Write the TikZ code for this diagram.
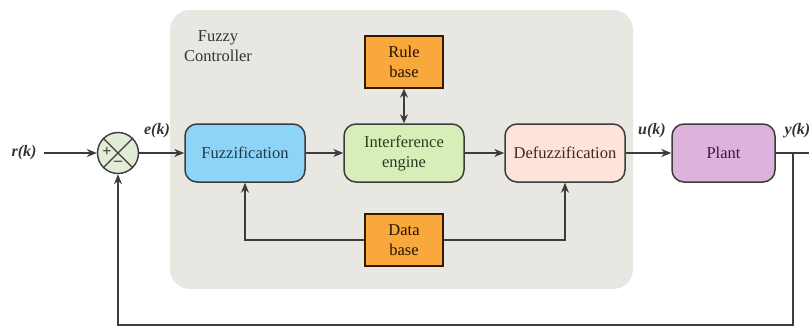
\documentclass[tikz,border=0pt]{standalone}
\usepackage{fontspec}
\setmainfont{Liberation Serif}
\usetikzlibrary{arrows.meta,calc}
\definecolor{bgpanel}{HTML}{E8E7E1}
\definecolor{orangebox}{HTML}{F9A83B}
\definecolor{bluebox}{HTML}{8ED4F6}
\definecolor{greenbox}{HTML}{D9EDB8}
\definecolor{peachbox}{HTML}{FCE4D8}
\definecolor{purplebox}{HTML}{DDB2DC}
\definecolor{sumfill}{HTML}{E1EDD6}
\definecolor{linecol}{HTML}{3C3C3C}
\begin{document}
\begin{tikzpicture}[x=1pt,y=-1pt,
  font=\fontsize{16.5}{20}\selectfont,
  blk/.style={draw=linecol,line width=1.5pt,rounded corners=12pt,minimum width=120pt,minimum height=58pt,align=center,inner sep=0pt},
  base/.style={draw=black!80!orange,line width=1.4pt,fill=orangebox,minimum width=78pt,minimum height=52pt,align=center,inner sep=0pt,text=black!85!orange},
  conn/.style={draw=linecol,line width=1.4pt},
  arr/.style={conn,-{Stealth[length=10pt,width=8pt]}},
  sig/.style={font=\fontsize{16}{18}\selectfont\bfseries\itshape,text=black!80}
]
\useasboundingbox (0,0) rectangle (809,327);
\fill[white] (0,0) rectangle (809,327);
\fill[bgpanel,rounded corners=20pt] (170,10) rectangle (633,289);
\node[align=center,text=black!80] (title) at (218,46) {Fuzzy\\Controller};

\node[base] (rule) at (404,62) {Rule\\base};
\node[base] (data) at (404,240) {Data\\base};
\node[blk,fill=bluebox,text={rgb,255:red,30;green,55;blue,75}] (fuzz) at (245,153) {Fuzzification};
\node[blk,fill=greenbox,text={rgb,255:red,45;green,60;blue,30}] (inf) at (404,153) {Interference\\engine};
\node[blk,fill=peachbox,text={rgb,255:red,60;green,40;blue,30}] (defuz) at (565,153) {Defuzzification};
\node[blk,fill=purplebox,minimum width=103pt,text={rgb,255:red,55;green,30;blue,55}] (plant) at (723.5,153) {Plant};

\node[circle,draw=linecol,line width=1.4pt,fill=sumfill,minimum size=41pt,inner sep=0pt] (sum) at (118,153) {};
\draw[linecol,line width=1.2pt] (sum.north west) -- (sum.south east) (sum.north east) -- (sum.south west);
\node[font=\fontsize{16}{16}\selectfont\bfseries,text=black!75] (plus) at ($(sum.center)+(-11,-1)$) {+};
\node[font=\fontsize{16}{16}\selectfont\bfseries,text=black!75] (minus) at ($(sum.center)+(0,10)$) {--};

\node[sig,anchor=east] (r) at (40,153) {r(k)};
\node[sig] (e) at (157,131) {e(k)};
\node[sig] (u) at (652,131) {u(k)};
\node[sig,anchor=west] (y) at (781,131) {y(k)};

\coordinate (yend) at (809,153);
\coordinate (ytap) at (793,153);
\coordinate (fbr) at (793,325);
\coordinate (fbl) at (118,325);
\coordinate (dbl) at (245,240);
\coordinate (dbr) at (565,240);

\draw[arr] (r.east) ++(4,0) -- (sum.west);
\draw[arr] (sum.east) -- (fuzz.west);
\draw[arr] (fuzz.east) -- (inf.west);
\draw[arr] (inf.east) -- (defuz.west);
\draw[arr] (defuz.east) -- (plant.west);
\draw[conn] (plant.east) -- (yend);
\draw[conn,{Stealth[length=9pt,width=8pt]}-{Stealth[length=9pt,width=8pt]}] (rule.south) -- (inf.north);
\draw[arr] (data.west) -- (dbl) -- (fuzz.south);
\draw[arr] (data.east) -- (dbr) -- (defuz.south);
\draw[arr] (ytap) -- (fbr) -- (fbl) -- (sum.south);
\end{tikzpicture}
\end{document}
